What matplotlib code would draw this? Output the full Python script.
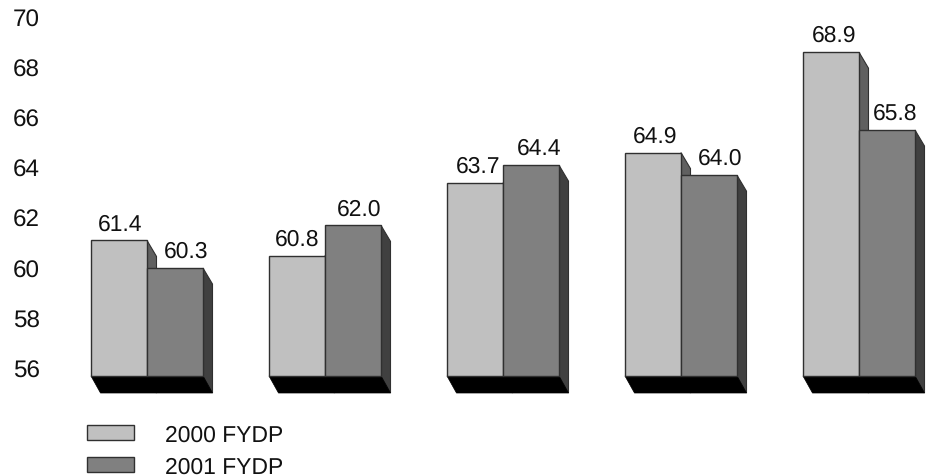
import numpy as np
from matplotlib import pyplot as plt
from matplotlib.patches import Patch, Polygon

fydp_2000 = [61.4, 60.8, 63.7, 64.9, 68.9]
fydp_2001 = [60.3, 62.0, 64.4, 64.0, 65.8]
y_ticks = [56, 58, 60, 62, 64, 66, 68, 70]
series_names = ["2000 FYDP", "2001 FYDP"]

W, H = 935, 477
LIGHT, DARK = "#C0C0C0", "#808080"
LIGHT_SIDE, DARK_SIDE = "#606060", "#404040"
EDGE = "#303030"

plt.rcParams["font.family"] = ["Liberation Sans", "DejaVu Sans"]
plt.rcParams["text.hinting"] = "no_hinting"
FONT = 16.5

fig = plt.figure(figsize=(W / 100, H / 100), dpi=100)
ax = fig.add_axes([40 / W, 0, 1 - 40 / W, 1])

# pixel scale of the original chart
px_x = 178.0
px_y = 25.1
ax.set_xlim((40 - 147) / px_x, (W - 147) / px_x)
ax.set_ylim(56 - (H - 377) / px_y, 56 + 377 / px_y)

bar_w = 56 / px_x
dx = 9.5 / px_x
dy = 16 / px_y
floor_dy = 17 / px_y
base = 56
x = np.arange(len(fydp_2000))


def side(x_right, top, color, z):
    pts = [(x_right, top), (x_right + dx, top - dy), (x_right + dx, base - floor_dy), (x_right, base)]
    ax.add_patch(Polygon(pts, closed=True, facecolor=color, edgecolor=EDGE, lw=0.8, zorder=z))


for xi, a, b in zip(x, fydp_2000, fydp_2001):
    side(xi, a, LIGHT_SIDE, 1)
    side(xi + bar_w, b, DARK_SIDE, 1)
    # floor goes over the side of the light bar
    floor = [(xi - bar_w, base), (xi + bar_w, base), (xi + bar_w + dx, base - floor_dy), (xi - bar_w + dx, base - floor_dy)]
    ax.add_patch(Polygon(floor, closed=True, facecolor="black", edgecolor="black", lw=0.5, zorder=1.5))

ax.bar(x - bar_w / 2, np.array(fydp_2000) - base, bar_w, bottom=base, color=LIGHT, edgecolor=EDGE, lw=1, zorder=2)
ax.bar(x + bar_w / 2, np.array(fydp_2001) - base, bar_w, bottom=base, color=DARK, edgecolor=EDGE, lw=1, zorder=3)

# value labels are not centred on their bars in the original
light_label_shift = [1, 0, 3, 2, 3]
dark_label_shift = [11, 6, 8, 11, 8]
for i, xi in enumerate(x):
    a, b = fydp_2000[i], fydp_2001[i]
    ax.annotate(f"{a:.1f}", (xi - bar_w / 2, a), xytext=(light_label_shift[i], 17), textcoords="offset pixels",
                ha="center", va="center", fontsize=FONT, color="#111111", zorder=5)
    ax.annotate(f"{b:.1f}", (xi + bar_w / 2, b), xytext=(dark_label_shift[i], 17), textcoords="offset pixels",
                ha="center", va="center", fontsize=FONT, color="#111111", zorder=5)

# tick labels sit on the back wall, 8px above the front base
ax.set_yticks(np.array(y_ticks) + 8 / px_y)
ax.set_yticklabels([str(t) for t in y_ticks], fontsize=17.5, color="#111111")
ax.tick_params(axis="y", length=0, pad=0)
ax.set_xticks([])
for sp in ax.spines.values():
    sp.set_visible(False)
ax.patch.set_visible(False)

handles = [Patch(facecolor=LIGHT, edgecolor=EDGE, lw=1), Patch(facecolor=DARK, edgecolor=EDGE, lw=1)]
fig.legend(handles, series_names, loc="upper left", bbox_to_anchor=(87 / W, 1 - 425 / H), frameon=False,
           fontsize=16.5, borderaxespad=0, borderpad=0, handlelength=2.05, handleheight=0.61,
           handletextpad=1.35, labelspacing=0.45, labelcolor="#111111")

fig.savefig("out.png", dpi=100)
